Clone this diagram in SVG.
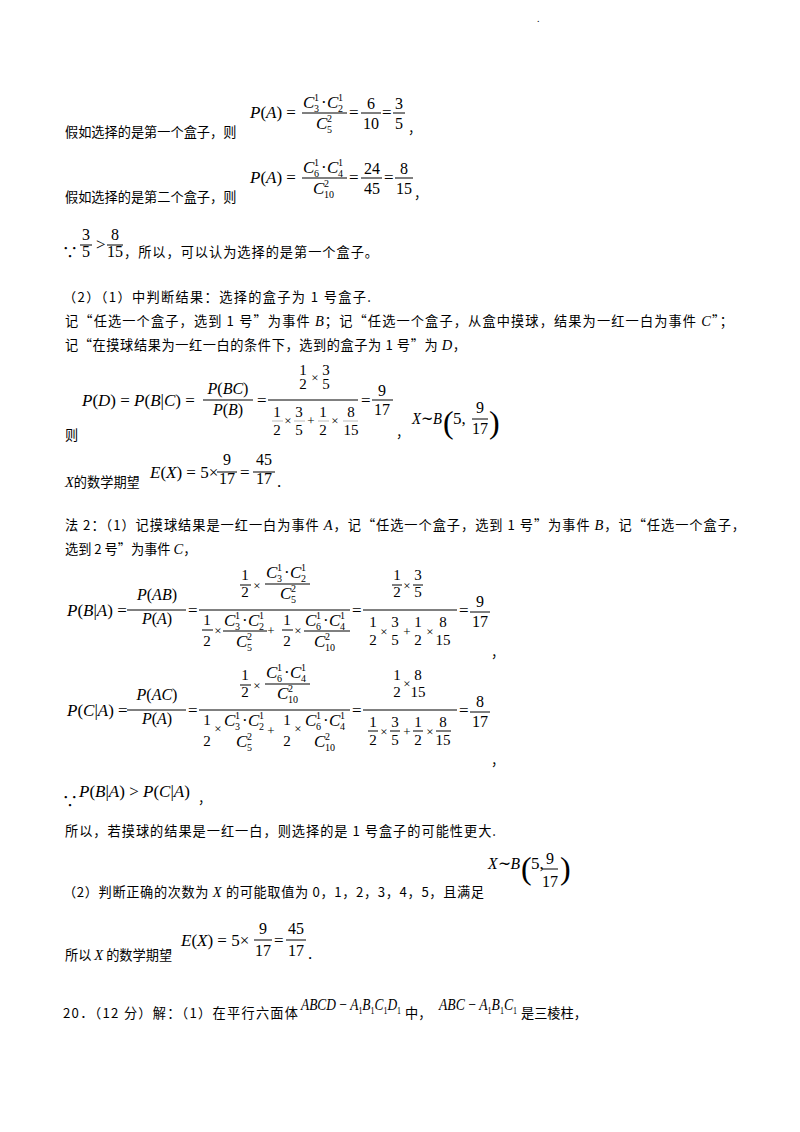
<svg xmlns="http://www.w3.org/2000/svg" width="800" height="1132" viewBox="0 0 800 1132">
<style>
text{fill:#000}
.m{font-family:"Liberation Serif",serif;font-size:17px}
.n{font-family:"Liberation Serif",serif;font-size:16px;text-anchor:middle}
.k{font-family:"Liberation Serif",serif;font-size:15px;text-anchor:middle}
.i{font-style:italic}
.v{font-family:"Liberation Serif",serif;font-style:italic;font-size:14.5px}
.s{font-family:"Liberation Serif",serif;font-size:10px}
.x{font-family:"Liberation Serif",serif;font-size:13px;text-anchor:middle}
.z{font-family:"Noto Sans CJK SC","Liberation Serif",sans-serif;font-size:13.2px}
.p{font-family:"Liberation Serif",serif;font-size:32px}
.f{stroke:#000;stroke-width:1}
.g{stroke:#aaa;stroke-width:0.8}
</style>
<rect width="800" height="1132" fill="#fff"/>
<text class="s" x="537" y="22">.</text>

<g id="l1">
<text class="m" x="250" y="118"><tspan class="i">P</tspan>(<tspan class="i">A</tspan>) =</text>
<text class="m i" x="303" y="108">C</text><text class="s" x="314" y="101">1</text><text class="s" x="314" y="112">3</text><text class="m" x="321" y="108">·</text>
<text class="m i" x="327" y="108">C</text><text class="s" x="338" y="101">1</text><text class="s" x="338" y="112">2</text>
<line class="f" x1="302" y1="113" x2="347" y2="113"/>
<text class="m i" x="316" y="129">C</text><text class="s" x="327" y="122">2</text><text class="s" x="327" y="133">5</text>
<text class="m" x="349" y="118">=</text>
<text class="n" x="371" y="109">6</text><line class="f" x1="361" y1="113" x2="381" y2="113"/><text class="n" x="371" y="129">10</text>
<text class="m" x="382" y="118">=</text>
<text class="n" x="399" y="109">3</text><line class="f" x1="393" y1="113" x2="405" y2="113"/><text class="n" x="399" y="129">5</text>
<text class="z" x="408" y="133">，</text>
<text class="z" x="65" y="137">假如选择的是第一个盒子，则</text>
</g>

<g id="l2">
<text class="m" x="250" y="183"><tspan class="i">P</tspan>(<tspan class="i">A</tspan>) =</text>
<text class="m i" x="303" y="173">C</text><text class="s" x="314" y="166">1</text><text class="s" x="314" y="177">6</text><text class="m" x="321" y="173">·</text>
<text class="m i" x="327" y="173">C</text><text class="s" x="338" y="166">1</text><text class="s" x="338" y="177">4</text>
<line class="f" x1="302" y1="178" x2="347" y2="178"/>
<text class="m i" x="313" y="194">C</text><text class="s" x="324" y="187">2</text><text class="s" x="324" y="198">10</text>
<text class="m" x="349" y="183">=</text>
<text class="n" x="372" y="174">24</text><line class="f" x1="361" y1="178" x2="382" y2="178"/><text class="n" x="372" y="194">45</text>
<text class="m" x="384" y="183">=</text>
<text class="n" x="404" y="174">8</text><line class="f" x1="395" y1="178" x2="413" y2="178"/><text class="n" x="404" y="194">15</text>
<text class="z" x="414" y="198">，</text>
<text class="z" x="65" y="202">假如选择的是第二个盒子，则</text>
</g>

<g id="l3">
<text class="z" x="62" y="258" style="font-size:16px">∵</text>
<text class="n" x="86" y="240">3</text><line class="f" x1="80" y1="245" x2="92" y2="245"/><text class="n" x="86" y="257">5</text>
<text class="m" x="96" y="250">&gt;</text>
<text class="n" x="115" y="240">8</text><line class="f" x1="107" y1="245" x2="123" y2="245"/><text class="n" x="115" y="257">15</text>
<text class="z" x="124" y="257" textLength="254" lengthAdjust="spacing">，所以，可以认为选择的是第一个盒子。</text>
</g>

<g id="l4">
<text class="z" x="63" y="302" textLength="308" lengthAdjust="spacing">（2）（1）中判断结果：选择的盒子为 1 号盒子.</text>
<text class="z" x="65" y="326" textLength="668" lengthAdjust="spacing">记“任选一个盒子，选到 1 号”为事件 <tspan class="v">B</tspan>；记“任选一个盒子，从盒中摸球，结果为一红一白为事件 <tspan class="v">C</tspan>”；</text>
<text class="z" x="65" y="350" textLength="401" lengthAdjust="spacing">记“在摸球结果为一红一白的条件下，选到的盒子为 1 号”为 <tspan class="v">D</tspan>，</text>
</g>

<g id="l5">
<text class="m" x="82" y="406"><tspan class="i">P</tspan>(<tspan class="i">D</tspan>) = <tspan class="i">P</tspan>(<tspan class="i">B</tspan>|<tspan class="i">C</tspan>) =</text>
<text class="n" x="228" y="394"><tspan class="i">P</tspan>(<tspan class="i">BC</tspan>)</text>
<line class="f" x1="203" y1="400" x2="253" y2="400"/>
<text class="n" x="228" y="415"><tspan class="i">P</tspan>(<tspan class="i">B</tspan>)</text>
<text class="m" x="257" y="406">=</text>
<text class="k" x="303" y="375">1</text><text class="x" x="315" y="382">×</text><text class="k" x="326" y="375">3</text>
<text class="k" x="303" y="389">2</text><text class="k" x="326" y="389">5</text>
<line class="f" x1="268" y1="400" x2="358" y2="400"/>
<text class="k" x="277" y="417">1</text><line class="g" x1="272" y1="421" x2="283" y2="421"/><text class="k" x="277" y="435">2</text>
<text class="x" x="288" y="425">×</text>
<text class="k" x="299" y="417">3</text><line class="g" x1="294" y1="421" x2="305" y2="421"/><text class="k" x="299" y="435">5</text>
<text class="x" x="311" y="425">+</text>
<text class="k" x="323" y="417">1</text><line class="g" x1="318" y1="421" x2="329" y2="421"/><text class="k" x="323" y="435">2</text>
<text class="x" x="335" y="425">×</text>
<text class="k" x="351" y="417">8</text><line class="g" x1="343" y1="421" x2="358" y2="421"/><text class="k" x="351" y="435">15</text>
<text class="m" x="361" y="406">=</text>
<text class="n" x="382" y="396">9</text><line class="f" x1="372" y1="400" x2="393" y2="400"/><text class="n" x="382" y="415">17</text>
<text class="z" x="396" y="437">，</text>
<text class="z" x="65" y="440">则</text>
<text class="m" x="412" y="424" textLength="30" lengthAdjust="spacingAndGlyphs"><tspan class="i">X</tspan>∼<tspan class="i">B</tspan></text>
<text class="p" x="443" y="433">(</text>
<text class="m" x="453" y="424">5,</text>
<text class="n" x="480" y="413">9</text><line class="f" x1="472" y1="419" x2="488" y2="419"/><text class="n" x="480" y="434">17</text>
<text class="p" x="489" y="433">)</text>
</g>

<g id="l6">
<text class="m" x="150" y="478"><tspan class="i">E</tspan>(<tspan class="i">X</tspan>) = 5×</text>
<text class="n" x="227" y="465">9</text><line class="f" x1="217" y1="472" x2="237" y2="472"/><text class="n" x="227" y="484">17</text>
<text class="m" x="240" y="478">=</text>
<text class="n" x="264" y="465">45</text><line class="f" x1="253" y1="472" x2="275" y2="472"/><text class="n" x="264" y="484">17</text>
<text class="m" x="277" y="487">.</text>
<text class="z" x="65" y="487"><tspan class="v">X</tspan>的数学期望</text>
</g>

<g id="l7">
<text class="z" x="65" y="530" textLength="680" lengthAdjust="spacing">法 2：（1）记摸球结果是一红一白为事件 <tspan class="v">A</tspan>，记“任选一个盒子，选到 1 号”为事件 <tspan class="v">B</tspan>，记“任选一个盒子，</text>
<text class="z" x="65" y="554">选到 2 号”为事件 <tspan class="v">C</tspan>，</text>
</g>

<g id="l8">
<text class="m" x="67" y="616"><tspan class="i">P</tspan>(<tspan class="i">B</tspan>|<tspan class="i">A</tspan>) =</text>
<text class="n" x="157" y="600"><tspan class="i">P</tspan>(<tspan class="i">AB</tspan>)</text>
<line class="f" x1="127" y1="610" x2="186" y2="610"/>
<text class="n" x="157" y="624"><tspan class="i">P</tspan>(<tspan class="i">A</tspan>)</text>
<text class="m" x="188" y="616">=</text>
<text class="k" x="245" y="580">1</text><line class="f" x1="240" y1="585" x2="251" y2="585"/><text class="k" x="245" y="597">2</text>
<text class="x" x="257" y="590">×</text>
<text class="m i" x="266" y="578">C</text><text class="s" x="277" y="571">1</text><text class="s" x="277" y="582">3</text><text class="m" x="284" y="578">·</text>
<text class="m i" x="290" y="578">C</text><text class="s" x="301" y="571">1</text><text class="s" x="301" y="582">2</text>
<line class="f" x1="265" y1="584" x2="310" y2="584"/>
<text class="m i" x="280" y="599">C</text><text class="s" x="291" y="592">2</text><text class="s" x="291" y="603">5</text>
<line class="f" x1="199" y1="610" x2="350" y2="610"/>
<text class="k" x="207" y="625">1</text><line class="f" x1="202" y1="630" x2="213" y2="630"/><text class="k" x="207" y="646">2</text>
<text class="x" x="218" y="635">×</text>
<text class="m i" x="224" y="626">C</text><text class="s" x="235" y="619">1</text><text class="s" x="235" y="630">3</text><text class="m" x="242" y="626">·</text>
<text class="m i" x="248" y="626">C</text><text class="s" x="259" y="619">1</text><text class="s" x="259" y="630">2</text>
<line class="f" x1="223" y1="631" x2="267" y2="631"/>
<text class="m i" x="236" y="647">C</text><text class="s" x="247" y="640">2</text><text class="s" x="247" y="651">5</text>
<text class="x" x="271" y="635">+</text>
<text class="k" x="287" y="625">1</text><line class="f" x1="282" y1="630" x2="293" y2="630"/><text class="k" x="287" y="646">2</text>
<text class="x" x="298" y="635">×</text>
<text class="m i" x="305" y="626">C</text><text class="s" x="316" y="619">1</text><text class="s" x="316" y="630">6</text><text class="m" x="323" y="626">·</text>
<text class="m i" x="329" y="626">C</text><text class="s" x="340" y="619">1</text><text class="s" x="340" y="630">4</text>
<line class="f" x1="304" y1="631" x2="350" y2="631"/>
<text class="m i" x="314" y="647">C</text><text class="s" x="325" y="640">2</text><text class="s" x="325" y="651">10</text>
<text class="m" x="352" y="616">=</text>
<text class="k" x="397" y="580">1</text><line class="f" x1="392" y1="585" x2="402" y2="585"/><text class="k" x="397" y="597">2</text>
<text class="x" x="407" y="590">×</text>
<text class="k" x="418" y="580">3</text><line class="f" x1="413" y1="585" x2="423" y2="585"/><text class="k" x="418" y="597">5</text>
<line class="f" x1="363" y1="610" x2="457" y2="610"/>
<text class="k" x="373" y="627">1</text><text class="k" x="373" y="645">2</text>
<text class="x" x="384" y="636">×</text>
<text class="k" x="395" y="627">3</text><text class="k" x="395" y="645">5</text>
<text class="x" x="407" y="636">+</text>
<text class="k" x="418" y="627">1</text><text class="k" x="418" y="645">2</text>
<text class="x" x="430" y="636">×</text>
<text class="k" x="443" y="627">8</text><text class="k" x="443" y="645">15</text>
<text class="m" x="459" y="616">=</text>
<text class="n" x="480" y="607">9</text><line class="f" x1="470" y1="612" x2="490" y2="612"/><text class="n" x="480" y="627">17</text>
<text class="z" x="491" y="657">，</text>
</g>

<g id="l9">
<text class="m" x="67" y="716"><tspan class="i">P</tspan>(<tspan class="i">C</tspan>|<tspan class="i">A</tspan>) =</text>
<text class="n" x="157" y="700"><tspan class="i">P</tspan>(<tspan class="i">AC</tspan>)</text>
<line class="f" x1="127" y1="710" x2="186" y2="710"/>
<text class="n" x="157" y="724"><tspan class="i">P</tspan>(<tspan class="i">A</tspan>)</text>
<text class="m" x="188" y="716">=</text>
<text class="k" x="245" y="680">1</text><line class="f" x1="240" y1="685" x2="251" y2="685"/><text class="k" x="245" y="697">2</text>
<text class="x" x="257" y="690">×</text>
<text class="m i" x="266" y="678">C</text><text class="s" x="277" y="671">1</text><text class="s" x="277" y="682">6</text><text class="m" x="284" y="678">·</text>
<text class="m i" x="290" y="678">C</text><text class="s" x="301" y="671">1</text><text class="s" x="301" y="682">4</text>
<line class="f" x1="265" y1="684" x2="310" y2="684"/>
<text class="m i" x="277" y="699">C</text><text class="s" x="288" y="692">2</text><text class="s" x="288" y="703">10</text>
<line class="f" x1="199" y1="710" x2="350" y2="710"/>
<text class="k" x="207" y="725">1</text><text class="k" x="207" y="746">2</text>
<text class="x" x="218" y="733">×</text>
<text class="m i" x="224" y="726">C</text><text class="s" x="235" y="719">1</text><text class="s" x="235" y="730">3</text><text class="m" x="242" y="726">·</text>
<text class="m i" x="248" y="726">C</text><text class="s" x="259" y="719">1</text><text class="s" x="259" y="730">2</text>
<text class="m i" x="236" y="747">C</text><text class="s" x="247" y="740">2</text><text class="s" x="247" y="751">5</text>
<text class="x" x="271" y="735">+</text>
<text class="k" x="287" y="725">1</text><text class="k" x="287" y="746">2</text>
<text class="x" x="298" y="733">×</text>
<text class="m i" x="305" y="726">C</text><text class="s" x="316" y="719">1</text><text class="s" x="316" y="730">6</text><text class="m" x="323" y="726">·</text>
<text class="m i" x="329" y="726">C</text><text class="s" x="340" y="719">1</text><text class="s" x="340" y="730">4</text>
<text class="m i" x="314" y="747">C</text><text class="s" x="325" y="740">2</text><text class="s" x="325" y="751">10</text>
<text class="m" x="352" y="716">=</text>
<text class="k" x="397" y="680">1</text><text class="x" x="407" y="688">×</text><text class="k" x="418" y="680">8</text>
<text class="k" x="397" y="697">2</text><text class="k" x="418" y="697">15</text>
<line class="f" x1="363" y1="710" x2="457" y2="710"/>
<text class="k" x="373" y="727">1</text><line class="f" x1="368" y1="731" x2="378" y2="731"/><text class="k" x="373" y="745">2</text>
<text class="x" x="384" y="736">×</text>
<text class="k" x="395" y="727">3</text><line class="f" x1="390" y1="731" x2="400" y2="731"/><text class="k" x="395" y="745">5</text>
<text class="x" x="407" y="736">+</text>
<text class="k" x="418" y="727">1</text><line class="f" x1="413" y1="731" x2="423" y2="731"/><text class="k" x="418" y="745">2</text>
<text class="x" x="430" y="736">×</text>
<text class="k" x="443" y="727">8</text><line class="f" x1="436" y1="731" x2="451" y2="731"/><text class="k" x="443" y="745">15</text>
<text class="m" x="459" y="716">=</text>
<text class="n" x="480" y="707">8</text><line class="f" x1="470" y1="712" x2="490" y2="712"/><text class="n" x="480" y="727">17</text>
<text class="z" x="491" y="765">，</text>
</g>

<g id="l10">
<text class="z" x="62" y="807" style="font-size:16px">∵</text>
<text class="m" x="79" y="797"><tspan class="i">P</tspan>(<tspan class="i">B</tspan>|<tspan class="i">A</tspan>) &gt; <tspan class="i">P</tspan>(<tspan class="i">C</tspan>|<tspan class="i">A</tspan>)</text>
<text class="z" x="198" y="803">，</text>
<text class="z" x="65" y="836" textLength="431" lengthAdjust="spacing">所以，若摸球的结果是一红一白，则选择的是 1 号盒子的可能性更大.</text>
</g>

<g id="l11">
<text class="m" x="488" y="869" textLength="32" lengthAdjust="spacingAndGlyphs"><tspan class="i">X</tspan>∼<tspan class="i">B</tspan></text>
<text class="p" x="521" y="879">(</text>
<text class="m" x="531" y="869">5,</text>
<text class="n" x="550" y="864">9</text><line class="f" x1="542" y1="869" x2="558" y2="869"/><text class="n" x="550" y="887">17</text>
<text class="p" x="560" y="879">)</text>
<text class="z" x="63" y="897" textLength="421" lengthAdjust="spacing">（2）判断正确的次数为 <tspan class="v">X</tspan> 的可能取值为 0，1，2，3，4，5，且满足</text>
</g>

<g id="l12">
<text class="m" x="181" y="946"><tspan class="i">E</tspan>(<tspan class="i">X</tspan>) = 5×</text>
<text class="n" x="263" y="934">9</text><line class="f" x1="254" y1="940" x2="272" y2="940"/><text class="n" x="263" y="956">17</text>
<text class="m" x="274" y="946">=</text>
<text class="n" x="296" y="934">45</text><line class="f" x1="286" y1="940" x2="306" y2="940"/><text class="n" x="296" y="956">17</text>
<text class="m" x="308" y="959">.</text>
<text class="z" x="65" y="960">所以 <tspan class="v">X</tspan> 的数学期望</text>
</g>

<g id="l13">
<text class="z" x="63" y="1018" textLength="235" lengthAdjust="spacing">20．（12 分）解：（1）在平行六面体</text>
<text class="m i" x="301" y="1010" textLength="100" lengthAdjust="spacingAndGlyphs">ABCD<tspan font-style="normal"> − </tspan>A<tspan class="s" font-style="normal" dy="4">1</tspan><tspan dy="-4">B</tspan><tspan class="s" font-style="normal" dy="4">1</tspan><tspan dy="-4">C</tspan><tspan class="s" font-style="normal" dy="4">1</tspan><tspan dy="-4">D</tspan><tspan class="s" font-style="normal" dy="4">1</tspan></text>
<text class="z" x="405" y="1018">中，</text>
<text class="m i" x="439" y="1010" textLength="78" lengthAdjust="spacingAndGlyphs">ABC<tspan font-style="normal"> − </tspan>A<tspan class="s" font-style="normal" dy="4">1</tspan><tspan dy="-4">B</tspan><tspan class="s" font-style="normal" dy="4">1</tspan><tspan dy="-4">C</tspan><tspan class="s" font-style="normal" dy="4">1</tspan></text>
<text class="z" x="521" y="1018">是三棱柱，</text>
</g>
</svg>
